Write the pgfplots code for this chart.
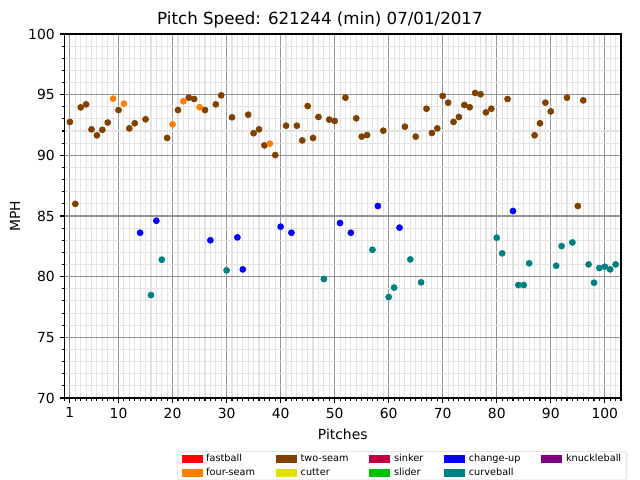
\documentclass[border=0pt]{standalone}
\usepackage{pgfplots}
\pgfplotsset{compat=1.18}
\usepackage{fontspec}
\setmainfont{DejaVu Sans}
\definecolor{cfast}{RGB}{255,0,0}
\definecolor{cfour}{RGB}{255,128,0}
\definecolor{ctwo}{RGB}{128,64,0}
\definecolor{ccut}{RGB}{224,224,0}
\definecolor{csink}{RGB}{192,0,64}
\definecolor{cslid}{RGB}{0,192,0}
\definecolor{cchg}{RGB}{0,0,255}
\definecolor{ccurv}{RGB}{0,128,128}
\definecolor{cknuck}{RGB}{128,0,128}
\pgfplotstableread{
x y
1 92.75
2 86.0
3 93.95
4 94.2
5 92.14
6 91.65
7 92.1
8 92.7
10 93.73
12 92.22
13 92.64
15 92.97
19 91.43
21 93.73
23 94.75
24 94.64
26 93.73
28 94.2
29 94.94
31 93.13
34 93.35
35 91.82
36 92.14
37 90.82
39 90.02
41 92.44
43 92.44
44 91.23
45 94.06
46 91.43
47 93.16
49 92.94
50 92.83
52 94.75
54 93.05
55 91.54
56 91.67
59 92.03
63 92.36
65 91.54
67 93.84
68 91.84
69 92.22
70 94.89
71 94.34
72 92.75
73 93.16
74 94.15
75 93.96
76 95.14
77 95.03
78 93.54
79 93.84
82 94.64
87 91.65
88 92.64
89 94.34
90 93.62
93 94.75
95 85.82
96 94.53
}\twoseam
\pgfplotstableread{
x y
9 94.67
11 94.26
20 92.55
22 94.45
25 93.96
38 90.96
}\fourseam
\pgfplotstableread{
x y
14 83.62
17 84.61
27 83.0
32 83.24
33 80.6
40 84.12
42 83.62
51 84.42
53 83.62
58 85.82
62 84.04
83 85.41
}\changeup
\pgfplotstableread{
x y
16 78.48
18 81.4
30 80.52
48 79.8
57 82.22
60 78.32
61 79.1
64 81.42
66 79.53
80 83.21
81 81.92
84 79.31
85 79.31
86 81.1
91 80.9
92 82.52
94 82.82
97 81.01
98 79.5
99 80.71
100 80.82
101 80.6
102 81.01
}\curveball
\begin{document}
\begin{tikzpicture}
\path[use as bounding box] (-46.44pt,-59.04pt) rectangle (414.36pt,286.56pt);
\begin{axis}[
  at={(0,0)}, anchor=south west,
  scale only axis, width=400.7pt, height=262.1pt,
  xmin=0, xmax=103, ymin=70, ymax=100,
  xtick={1,10,20,30,40,50,60,70,80,90,100},
  minor xtick={0,...,103},
  ytick={70,75,80,85,90,95,100},
  minor ytick={70,...,100},
  grid=both,
  major grid style={color=black!42, line width=0.8pt},
  minor grid style={color=black!11, line width=0.8pt},
  tick align=outside,
  xtick pos=bottom, ytick pos=left,
  major tick length=3.5pt, minor tick length=2pt,
  tick style={black, line width=0.8pt},
  axis line style={line width=0.8pt},
  ticklabel style={font=\fontsize{10}{12}\selectfont},
  /pgf/number format/assume math mode=true,
  xlabel={Pitches}, ylabel={MPH},
  label style={font=\fontsize{10}{12}\selectfont},
  xlabel style={at={(0.5,0)}, anchor=center, yshift=-25.9pt},
  ylabel style={at={(0,0.5)}, anchor=center, rotate=0, yshift=35.6pt},
  title={Pitch Speed: 621244 (min) 07/01/2017},
  title style={font=\fontsize{12}{14}\selectfont, at={(0.5,1)}, anchor=center, yshift=4.3pt, xshift=-16.4pt},
  legend columns=5,
  legend cell align=left,
  legend image code/.code={\fill[#1, sharp corners] (0pt,-2.6pt) rectangle (14.4pt,2.6pt);},
  legend style={font=\fontsize{7}{8}\selectfont, draw=black!15, rounded corners=2pt,
    at={(1,0)}, anchor=north east, xshift=4.3pt, yshift=-38.2pt,
    inner xsep=3pt, inner ysep=0.8pt, row sep=1pt,
    nodes={inner sep=1pt, text height=5.5pt, text depth=1.5pt},
    /tikz/every odd column/.append style={column sep=2pt},
    /tikz/every even column/.append style={column sep=14pt}},
]
\addlegendimage{cfast}\addlegendentry{fastball}
\addlegendimage{ctwo}\addlegendentry{two-seam}
\addlegendimage{csink}\addlegendentry{sinker}
\addlegendimage{cchg}\addlegendentry{change-up}
\addlegendimage{cknuck}\addlegendentry{knuckleball}
\addlegendimage{cfour}\addlegendentry{four-seam}
\addlegendimage{ccut}\addlegendentry{cutter}
\addlegendimage{cslid}\addlegendentry{slider}
\addlegendimage{ccurv}\addlegendentry{curveball}
\addplot[only marks, mark=*, mark size=2.2pt, color=ctwo, mark options={draw=none, fill=ctwo}, forget plot] table {\twoseam};
\addplot[only marks, mark=*, mark size=2.2pt, color=cfour, mark options={draw=none, fill=cfour}, forget plot] table {\fourseam};
\addplot[only marks, mark=*, mark size=2.2pt, color=cchg, mark options={draw=none, fill=cchg}, forget plot] table {\changeup};
\addplot[only marks, mark=*, mark size=2.2pt, color=ccurv, mark options={draw=none, fill=ccurv}, forget plot] table {\curveball};
\end{axis}
\end{tikzpicture}
\end{document}
